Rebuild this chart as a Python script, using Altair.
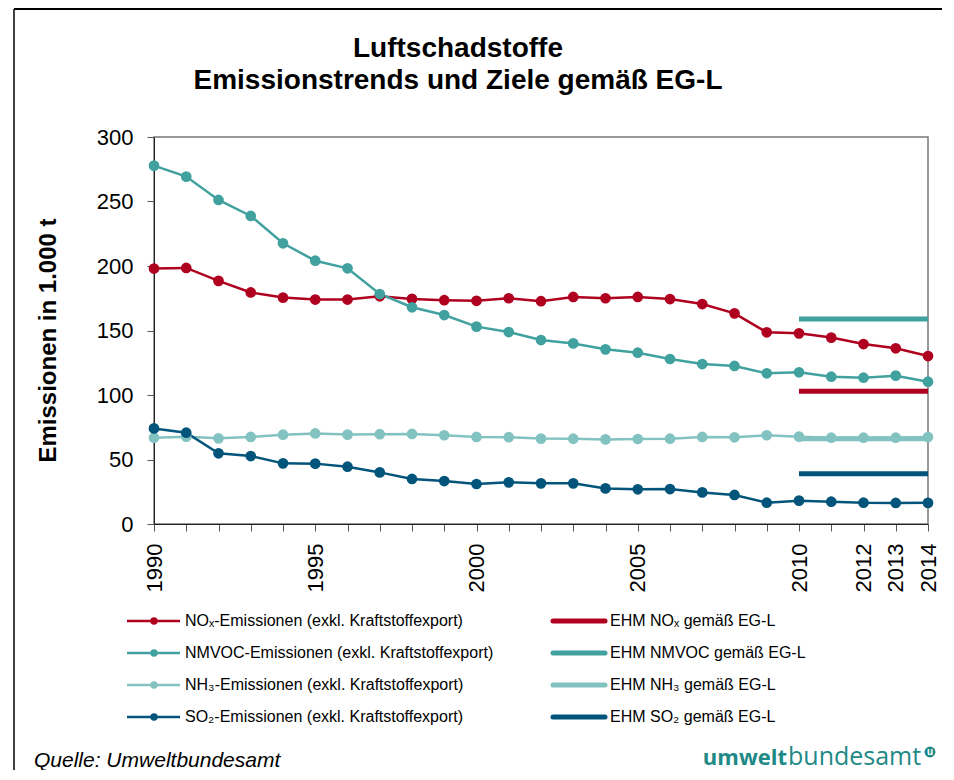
import altair as alt
import pandas as pd

# ---------------- data ----------------
years = list(range(1990, 2015))
nox = [198, 198.5, 188.5, 179.5, 175.5, 174, 174, 176.5, 174.5, 173.5,
       173, 175, 172.7, 176, 175, 176, 174.4, 170.5, 163.3, 148.6,
       147.8, 144.5, 139.5, 136.2, 130.2]
nmvoc = [277.8, 269.3, 251.2, 238.8, 217.6, 204.1, 198.2, 178.3, 168, 162,
         153, 148.8, 142.6, 140, 135.4, 132.8, 127.9, 124, 122.5, 116.8,
         117.6, 114.2, 113.4, 115, 110.3]
nh3 = [66.9, 67.7, 66.4, 67.5, 69.2, 70.2, 69.3, 69.6, 69.8, 68.8,
       67.5, 67.3, 66.2, 66.1, 65.6, 65.9, 66.1, 67.5, 67.2, 68.8,
       67.7, 66.9, 66.9, 66.9, 67.4]
so2 = [74.1, 70.8, 54.8, 52.7, 47, 46.8, 44.4, 40, 34.9, 33.3,
       31, 32.3, 31.5, 31.5, 27.6, 26.9, 27.1, 24.5, 22.5, 16.5,
       18.1, 17.3, 16.5, 16.3, 16.4]

pollutants = ["NOx", "NMVOC", "NH3", "SO2"]
colors = ["#B0001F", "#40A19F", "#82C3C1", "#03547A"]
series_labels = [
    "NOₓ-Emissionen (exkl. Kraftstoffexport)",
    "NMVOC-Emissionen (exkl. Kraftstoffexport)",
    "NH₃-Emissionen (exkl. Kraftstoffexport)",
    "SO₂-Emissionen (exkl. Kraftstoffexport)",
]
target_labels = [
    "EHM NOₓ gemäß EG-L",
    "EHM NMVOC gemäß EG-L",
    "EHM NH₃ gemäß EG-L",
    "EHM SO₂ gemäß EG-L",
]
targets = [103, 159, 66, 39]
target_start = 2010
target_end = 2014

y_ticks = [0, 50, 100, 150, 200, 250, 300]
x_label_years = [1990, 1995, 2000, 2005, 2010, 2012, 2013, 2014]

title_lines = ["Luftschadstoffe", "Emissionstrends und Ziele gemäß EG-L"]
y_title = "Emissionen in 1.000 t"
source_text = "Quelle: Umweltbundesamt"

FONT = "Liberation Sans"
LOGO = "#1E8985"

# ---------------- tables ----------------
series = {"NOx": nox, "NMVOC": nmvoc, "NH3": nh3, "SO2": so2}
rows = []
for p in pollutants:
    for yr, v in zip(years, series[p]):
        rows.append({"pollutant": p, "year": yr, "value": v})
df = pd.DataFrame(rows)

tdf = pd.DataFrame({
    "pollutant": pollutants,
    "start": [target_start] * 4,
    "end": [target_end] * 4,
    "value": targets,
})

leg = pd.DataFrame({
    "pollutant": pollutants,
    "row": list(range(4)),
    "slabel": series_labels,
    "tlabel": target_labels,
})

color = alt.Color("pollutant:N",
                  scale=alt.Scale(domain=pollutants, range=colors),
                  legend=None)

xscale = alt.Scale(domain=[1990, 2014], nice=False, zero=False)
yscale = alt.Scale(domain=[0, 300], nice=False)

label_list = ",".join(str(v) for v in x_label_years)
x_axis = alt.Axis(
    values=years, format="d", title=None, grid=False,
    labelExpr=f"indexof([{label_list}], datum.value) >= 0 ? datum.label : ''",
    labelAngle=-90, labelFontSize=22, labelPadding=12, labelOverlap=False,
    labelFlush=False, tickSize=7, tickColor="#555555", domainColor="#222222",
    labelColor="#000000", labelFont=FONT,
)
y_axis = alt.Axis(
    values=y_ticks, grid=False, title=y_title, titleFontSize=24,
    titleFont=FONT, titleFontWeight="bold", titleColor="#000000",
    titleX=-106, titleY=203, titleAngle=-90, titleBaseline="middle",
    titleAlign="center", labelOverlap=False,
    labelFontSize=22, labelPadding=14, tickSize=7, tickColor="#555555",
    domainColor="#222222", labelColor="#000000", labelFont=FONT,
)

target_layer = alt.Chart(tdf).mark_rule(strokeWidth=5).encode(
    x=alt.X("start:Q", scale=xscale, axis=x_axis),
    x2="end:Q",
    y=alt.Y("value:Q", scale=yscale, axis=y_axis),
    color=color,
)
line_layer = alt.Chart(df).mark_line(strokeWidth=2.5).encode(
    x=alt.X("year:Q", scale=xscale, axis=x_axis),
    y=alt.Y("value:Q", scale=yscale, axis=y_axis),
    color=color,
    detail="pollutant:N",
)
point_layer = alt.Chart(df).mark_circle(size=115, opacity=1).encode(
    x=alt.X("year:Q", scale=xscale, axis=x_axis),
    y=alt.Y("value:Q", scale=yscale, axis=y_axis),
    color=color,
)
main = alt.layer(target_layer, line_layer, point_layer)

# ---------------- legend ----------------
row_y = alt.Y("row:O", scale=alt.Scale(type="point", domain=[0, 1, 2, 3],
                                         range=[484, 580], padding=0),
              axis=None)
leg_line_l = alt.Chart(leg).mark_rule(strokeWidth=2.5).encode(
    x=alt.value(-27), x2=alt.value(26), y=row_y, color=color)
leg_pt = alt.Chart(leg).mark_circle(size=55, opacity=1).encode(
    x=alt.value(0), y=row_y, color=color)
leg_text_l = alt.Chart(leg).mark_text(
    align="left", baseline="middle", fontSize=16, font=FONT, color="#000000"
).encode(x=alt.value(31), y=row_y, text="slabel:N")
leg_line_r = alt.Chart(leg).mark_rule(strokeWidth=5, strokeCap="round").encode(
    x=alt.value(399), x2=alt.value(451), y=row_y, color=color)
leg_text_r = alt.Chart(leg).mark_text(
    align="left", baseline="middle", fontSize=16, font=FONT, color="#000000"
).encode(x=alt.value(456), y=row_y, text="tlabel:N")
legend = alt.layer(leg_line_l, leg_pt, leg_text_l, leg_line_r, leg_text_r)

# ---------------- decoration ----------------
t1 = alt.Chart(pd.DataFrame({"t": [title_lines[0]]})).mark_text(
    align="center", baseline="alphabetic", fontSize=28, fontWeight="bold",
    font=FONT, color="#000000").encode(x=alt.value(304), y=alt.value(-80), text="t:N")
t2 = alt.Chart(pd.DataFrame({"t": [title_lines[1]]})).mark_text(
    align="center", baseline="alphabetic", fontSize=28, fontWeight="bold",
    font=FONT, color="#000000").encode(x=alt.value(304), y=alt.value(-48), text="t:N")
src = alt.Chart(pd.DataFrame({"t": [source_text]})).mark_text(
    align="left", baseline="alphabetic", fontSize=21, fontStyle="italic",
    font=FONT, color="#000000").encode(x=alt.value(-120), y=alt.value(630), text="t:N")
logo1 = alt.Chart(pd.DataFrame({"t": ["umwelt"]})).mark_text(
    align="right", baseline="alphabetic", fontSize=22, fontWeight="bold",
    font="Open Sans", color=LOGO).encode(x=alt.value(633), y=alt.value(628), text="t:N")
logo2 = alt.Chart(pd.DataFrame({"t": ["bundesamt"]})).mark_text(
    align="left", baseline="alphabetic", fontSize=25,
    font="Open Sans", color=LOGO).encode(x=alt.value(634), y=alt.value(628), text="t:N")
logo3 = alt.Chart(pd.DataFrame({"t": ["u"]})).mark_circle(
    size=120, opacity=1, color=LOGO).encode(x=alt.value(776), y=alt.value(615))
logo4 = alt.Chart(pd.DataFrame({"t": ["u"]})).mark_text(
    align="center", baseline="middle", fontSize=10, fontWeight="bold",
    font=FONT, color="white").encode(x=alt.value(776), y=alt.value(615), text="t:N")
frame_l = alt.Chart(pd.DataFrame({"t": [0]})).mark_rule(
    color="#000000", strokeWidth=1.5).encode(
    x=alt.value(-140), y=alt.value(-128), y2=alt.value(660))
frame_t = alt.Chart(pd.DataFrame({"t": [0]})).mark_rule(
    color="#000000", strokeWidth=2).encode(
    x=alt.value(-140), x2=alt.value(790), y=alt.value(-128))
edge_cover = alt.Chart(pd.DataFrame({"t": [0]})).mark_rule(
    color="#FFFFFF", strokeWidth=4).encode(
    x=alt.value(788), y=alt.value(-127), y2=alt.value(660))
deco = alt.layer(frame_l, frame_t, edge_cover, t1, t2, src, logo1, logo2, logo3, logo4)

chart = alt.layer(main, legend, deco).resolve_scale(y="independent").properties(
    width=774, height=387,
    autosize=alt.AutoSizeParams(type="none"),
    padding={"left": 146, "top": 129, "right": 14, "bottom": 246},
    background="white",
).configure_view(stroke="#777777", strokeWidth=1.5)

chart.save("out.html", embed_options={"renderer": "svg", "actions": False})
